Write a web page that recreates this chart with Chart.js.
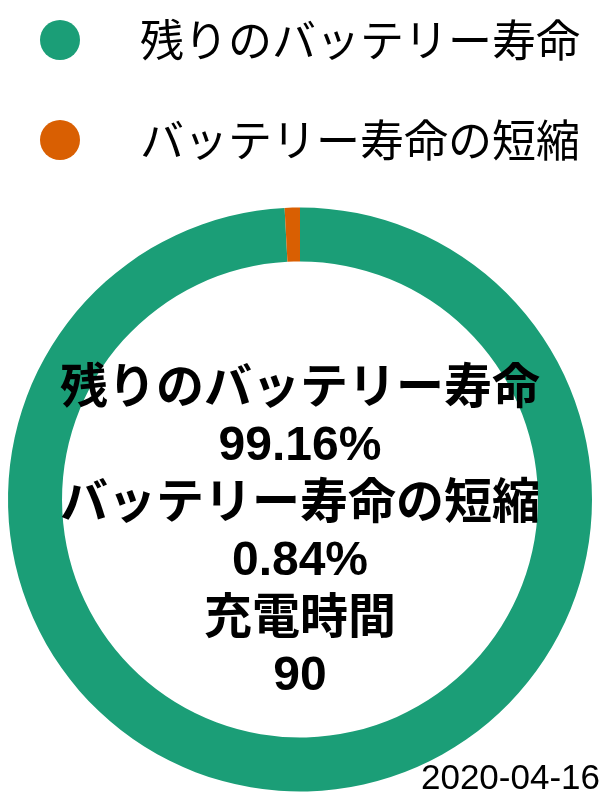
<!DOCTYPE html>
<html>
<head>
<meta charset="utf-8">
<script src="https://cdn.jsdelivr.net/npm/chart.js@4.4.0/dist/chart.umd.min.js"></script>
<style>
html,body{margin:0;padding:0;background:#fff;}
#wrap{width:600px;height:800px;}
canvas{display:block;}
</style>
</head>
<body>
<div id="wrap"><canvas id="c" width="600" height="800"></canvas></div>
<script>
const categories = ['残りのバッテリー寿命', 'バッテリー寿命の短縮'];
const values = [99.16, 0.84];
const chargeLabel = '充電時間';
const chargeValue = 90;
const dateLabel = '2020-04-16';
const colors = ['#1b9e77', '#d95f02'];

const JP = '"Liberation Sans", "Noto Sans CJK JP", sans-serif';

function makeDot(color) {
  const cv = document.createElement('canvas');
  cv.width = 98; cv.height = 50;
  const g = cv.getContext('2d');
  g.fillStyle = color;
  g.beginPath();
  g.arc(40, 20, 20, 0, Math.PI * 2);
  g.fill();
  return cv;
}
const dots = colors.map(makeDot);

const legendSpace = {
  id: 'legendSpace',
  afterInit(chart) {
    const orig = chart.legend.fit;
    chart.legend.fit = function () {
      orig.call(this);
      this.height = 274;
    };
  }
};

const centerText = {
  id: 'centerText',
  afterDraw(chart) {
    const arc = chart.getDatasetMeta(0).data[0];
    if (!arc) return;
    const ctx = chart.ctx;
    const lines = [
      categories[0], values[0].toFixed(2) + '%',
      categories[1], values[1].toFixed(2) + '%',
      chargeLabel, String(chargeValue)
    ];
    ctx.save();
    ctx.font = 'bold 48px ' + JP;
    ctx.fillStyle = '#000';
    ctx.textAlign = 'center';
    ctx.textBaseline = 'middle';
    const step = 57.5;
    const y0 = arc.y - 110;
    lines.forEach((t, i) => ctx.fillText(t, arc.x, y0 + i * step));
    ctx.restore();
  }
};

Chart.defaults.color = '#000';

new Chart(document.getElementById('c'), {
  type: 'doughnut',
  data: {
    labels: categories,
    datasets: [{
      data: values,
      backgroundColor: colors,
      borderWidth: 0,
      hoverOffset: 0,
      radius: 292,
      cutout: '81.5%'
    }]
  },
  options: {
    responsive: false,
    animation: false,
    layout: { padding: { top: -33, left: 0, right: 0, bottom: 0 } },
    plugins: {
      tooltip: { enabled: false },
      legend: {
        display: true,
        position: 'top',
        align: 'center',
        labels: {
          usePointStyle: true,
          pointStyleWidth: 98,
          padding: 56,
          color: '#000',
          font: { size: 44, family: JP },
          generateLabels(chart) {
            const items = Chart.overrides.doughnut.plugins.legend.labels.generateLabels(chart);
            items.forEach((it, i) => { it.pointStyle = dots[i % dots.length]; });
            return items;
          }
        }
      },
      title: {
        display: true,
        text: dateLabel,
        position: 'bottom',
        align: 'end',
        color: '#000',
        padding: { top: 0, bottom: 0 },
        font: { size: 35, weight: 'normal', family: '"Liberation Sans", sans-serif' }
      }
    }
  },
  plugins: [legendSpace, centerText]
});
</script>
</body>
</html>
